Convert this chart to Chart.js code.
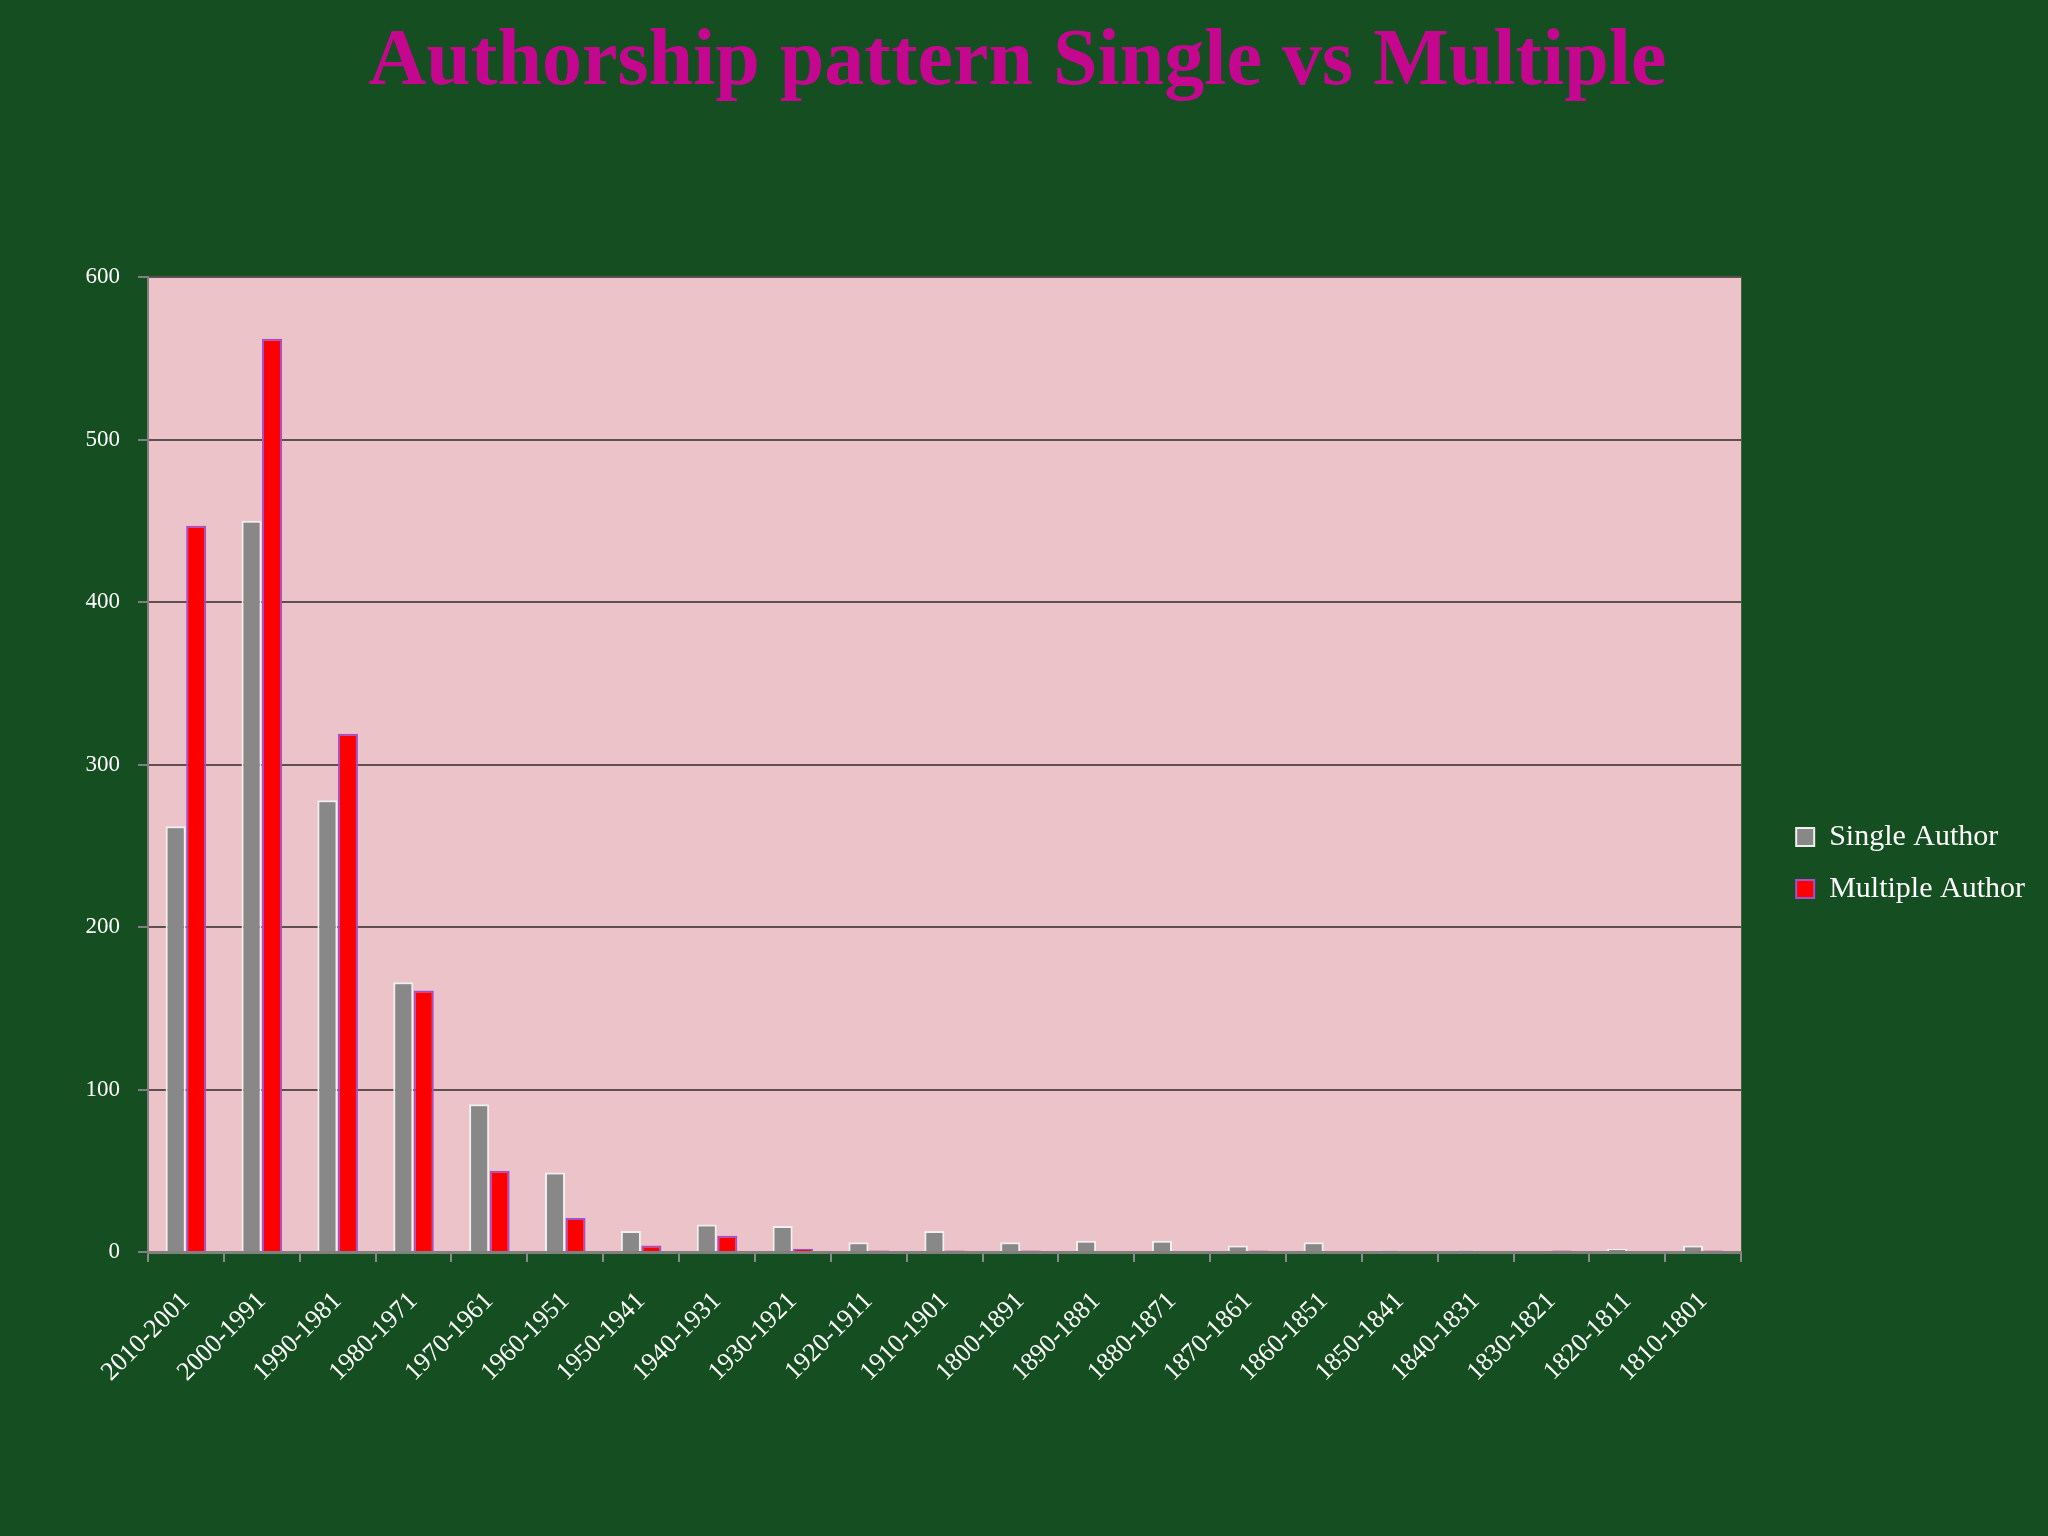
<!DOCTYPE html>
<html lang="en">
<head>
<meta charset="UTF-8">
<title>Authorship pattern Single vs Multiple</title>
<script src="https://cdn.jsdelivr.net/npm/chart.js"></script>
<style>
  html, body {
    margin: 0;
    padding: 0;
    height: 100%;
    overflow: hidden;
    background: #154e21;
  }
  #wrap {
    width: 100vw;
    height: 100vh;
  }
</style>
</head>
<body>
  <div id="wrap"><canvas id="chart"></canvas></div>

  <script>
    const decades = [
      '2010-2001', '2000-1991', '1990-1981', '1980-1971', '1970-1961', '1960-1951',
      '1950-1941', '1940-1931', '1930-1921', '1920-1911', '1910-1901', '1800-1891',
      '1890-1881', '1880-1871', '1870-1861', '1860-1851', '1850-1841', '1840-1831',
      '1830-1821', '1820-1811', '1810-1801'
    ];
    const singleAuthor   = [262, 450, 278, 166, 91, 49, 13, 17, 16, 6, 13, 6, 7, 7, 4, 6, 1, 1, 0, 2, 4];
    const multipleAuthor = [447, 562, 319, 161, 50, 21, 4, 10, 2, 1, 1, 1, 0, 0, 1, 0, 0, 0, 1, 0, 1];
    const yTicks = [0, 100, 200, 300, 400, 500, 600];

    const serif = "'Liberation Serif', 'DejaVu Serif', serif";

    // pink plot background
    const plotBg = {
      id: 'plotBg',
      beforeDraw(chart) {
        const { ctx, chartArea: a } = chart;
        ctx.save();
        ctx.fillStyle = '#ebc3c8';
        ctx.fillRect(a.left, a.top, a.right - a.left, a.bottom - a.top);
        ctx.restore();
      }
    };

    const ctx = document.getElementById('chart').getContext('2d');
    const chart = new Chart(ctx, {
      type: 'bar',
      data: {
        labels: decades,
        datasets: [
          {
            label: 'Single Author',
            data: singleAuthor,
            backgroundColor: '#888888',
            borderColor: '#f0f0f0',
            borderWidth: 2,
            categoryPercentage: 0.54,
            barPercentage: 0.98,
          },
          {
            label: 'Multiple Author',
            data: multipleAuthor,
            backgroundColor: '#ff0000',
            borderColor: '#a050d0',
            borderWidth: 2,
            categoryPercentage: 0.54,
            barPercentage: 0.98,
          }
        ]
      },
      options: {
        responsive: true,
        maintainAspectRatio: false,
        animation: false,
        devicePixelRatio: 1,
        layout: { padding: { left: 0, right: 13, top: 0, bottom: 0 } },
        scales: {
          x: {
            offset: true,
            grid: {
              offset: true,
              drawOnChartArea: false,
              tickLength: 10,
              color: '#8a8a8a',
              lineWidth: 2,
            },
            border: { color: '#808080', width: 3 },
            ticks: {
              autoSkip: false,
              minRotation: 45,
              maxRotation: 45,
              color: '#ffffff',
              padding: 24,
              font: { family: serif, size: 26 },
            },
            afterFit(scale) { scale.height = 284; },
          },
          y: {
            min: 0,
            max: 600,
            afterBuildTicks(scale) { scale.ticks = yTicks.map(v => ({ value: v })); },
            grid: {
              color: '#5e5050',
              lineWidth: 2,
              tickLength: 10,
              tickColor: '#808080',
            },
            border: { color: '#808080', width: 2 },
            ticks: {
              color: '#ffffff',
              padding: 18,
              font: { family: serif, size: 23 },
            },
            afterFit(scale) { scale.width = 148; },
          },
          gap: {
            type: 'linear',
            position: 'right',
            grid: { display: false },
            border: { display: false },
            ticks: { display: false },
            afterFit(scale) { scale.width = 33; },
          }
        },
        plugins: {
          title: {
            display: true,
            text: 'Authorship pattern Single vs Multiple',
            color: '#c4078e',
            font: { family: serif, size: 80, weight: 'bold', lineHeight: 1.2 },
            padding: { top: 15, bottom: 166 },
          },
          legend: {
            position: 'right',
            fullSize: false,
            align: 'center',
            title: {
              display: true,
              text: ' ',
              font: { size: 10, lineHeight: 1 },
              padding: { top: 187, bottom: 0 },
            },
            labels: {
              color: '#ffffff',
              boxWidth: 18,
              boxHeight: 18,
              padding: 22,
              font: { family: serif, size: 30 },
            }
          },
          tooltip: { enabled: false },
        }
      },
      plugins: [plotBg]
    });
  </script>
</body>
</html>
